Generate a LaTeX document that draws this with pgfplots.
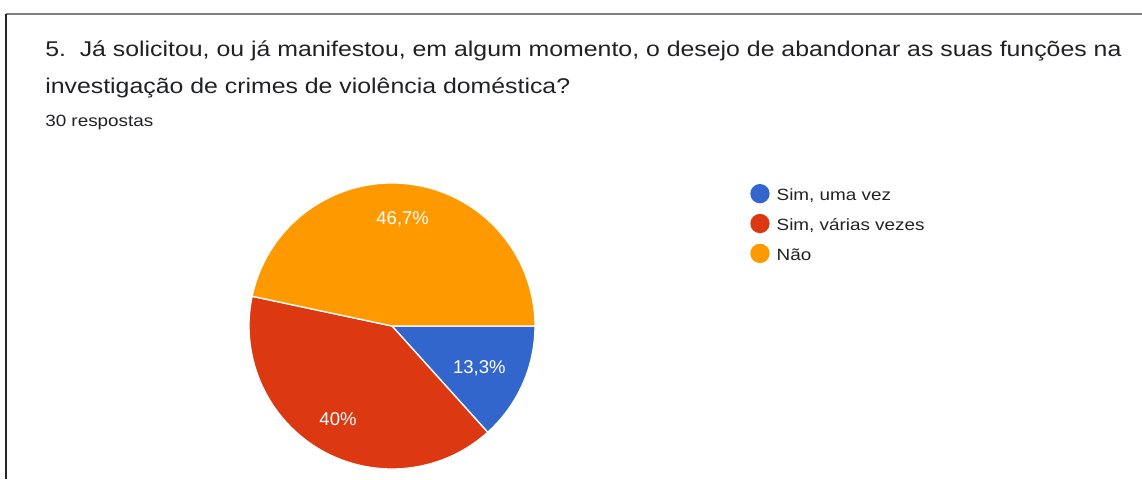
\documentclass[border=0pt]{standalone}
\usepackage{fontspec}
\setmainfont{Liberation Sans}[FakeStretch=1.16]
\newfontfamily\titlefont{Liberation Sans}[FakeStretch=1.165]
\newfontfamily\labelfont{Liberation Sans}
\usepackage{pgfplots}
\pgfplotsset{compat=1.18}
\definecolor{gblue}{HTML}{3366CC}
\definecolor{gred}{HTML}{DC3912}
\definecolor{gorange}{HTML}{FF9900}
\definecolor{gtext}{HTML}{202124}
\definecolor{ltext}{HTML}{222222}
\begin{document}
\begin{tikzpicture}
\begin{axis}[
  scale only axis, width=856.5pt, height=359.25pt,
  xmin=0, xmax=1142, ymin=0, ymax=479,
  hide axis, clip=false,
  legend image code/.code={\fill[#1,draw=none] (7.25pt,1.6pt) circle[radius=7.25pt];},
  legend style={at={(axis cs:750.3,295.0)}, anchor=north west, draw=none, fill=none,
    inner sep=0pt, outer sep=0pt, row sep=7.9pt, column sep=0pt,
    nodes={inner sep=0pt, outer sep=0pt},
    font=\fontsize{12.2}{14}\selectfont, text=ltext},
  legend cell align=left,
]
% Sim, uma vez: 4/30 = 13.3% -> 48 deg
\addplot[fill=gblue, draw=white, line width=1pt]
  coordinates {(392,153) (535,153)} arc[start angle=0, end angle=-48, radius=107.25pt] -- cycle;
\addlegendentry{\hspace{5.3pt}Sim, uma vez}
% Sim, várias vezes: 12/30 = 40% -> 144 deg
\addplot[fill=gred, draw=white, line width=1pt]
  coordinates {(392,153) (487.69,46.73)} arc[start angle=-48, end angle=-192, radius=107.25pt] -- cycle;
\addlegendentry{\hspace{5.3pt}Sim, várias vezes}
% Não: 14/30 = 46.7% -> 168 deg
\addplot[fill=gorange, draw=white, line width=1pt]
  coordinates {(392,153) (252.13,182.73)} arc[start angle=-192, end angle=-360, radius=107.25pt] -- cycle;
\addlegendentry{\hspace{5.3pt}Não}

% slice labels
\node[anchor=base, text=white, font=\labelfont\fontsize{13.9}{16}\selectfont] at (axis cs:402.7,254.7) {46,7\%};
\node[anchor=base, text=white, font=\labelfont\fontsize{13.9}{16}\selectfont] at (axis cs:479.3,105.7) {13,3\%};
\node[anchor=base, text=white, font=\labelfont\fontsize{13.9}{16}\selectfont] at (axis cs:338,53.3) {40\%};

% titles
\node[anchor=base west, inner sep=0pt, text=gtext, font=\titlefont\fontsize{16}{18}\selectfont] at (axis cs:45,422.3)
  {5.\ \ Já solicitou, ou já manifestou, em algum momento, o desejo de abandonar as suas funções na};
\node[anchor=base west, inner sep=0pt, text=gtext, font=\titlefont\fontsize{16}{18}\selectfont] at (axis cs:45,385.7)
  {investigação de crimes de violência doméstica?};
\node[anchor=base west, inner sep=0pt, text=gtext, font=\fontsize{12.2}{14}\selectfont] at (axis cs:45,352.3)
  {30 respostas};

% card border
\draw[color=gray, line width=1pt] (axis cs:6,465) -- (axis cs:1142,465);
\draw[color=black!85, line width=1pt] (axis cs:6,465) -- (axis cs:6,0);
\end{axis}
\pgfresetboundingbox
\path[use as bounding box] (current axis.south west) rectangle (current axis.north east);
\end{tikzpicture}
\end{document}
